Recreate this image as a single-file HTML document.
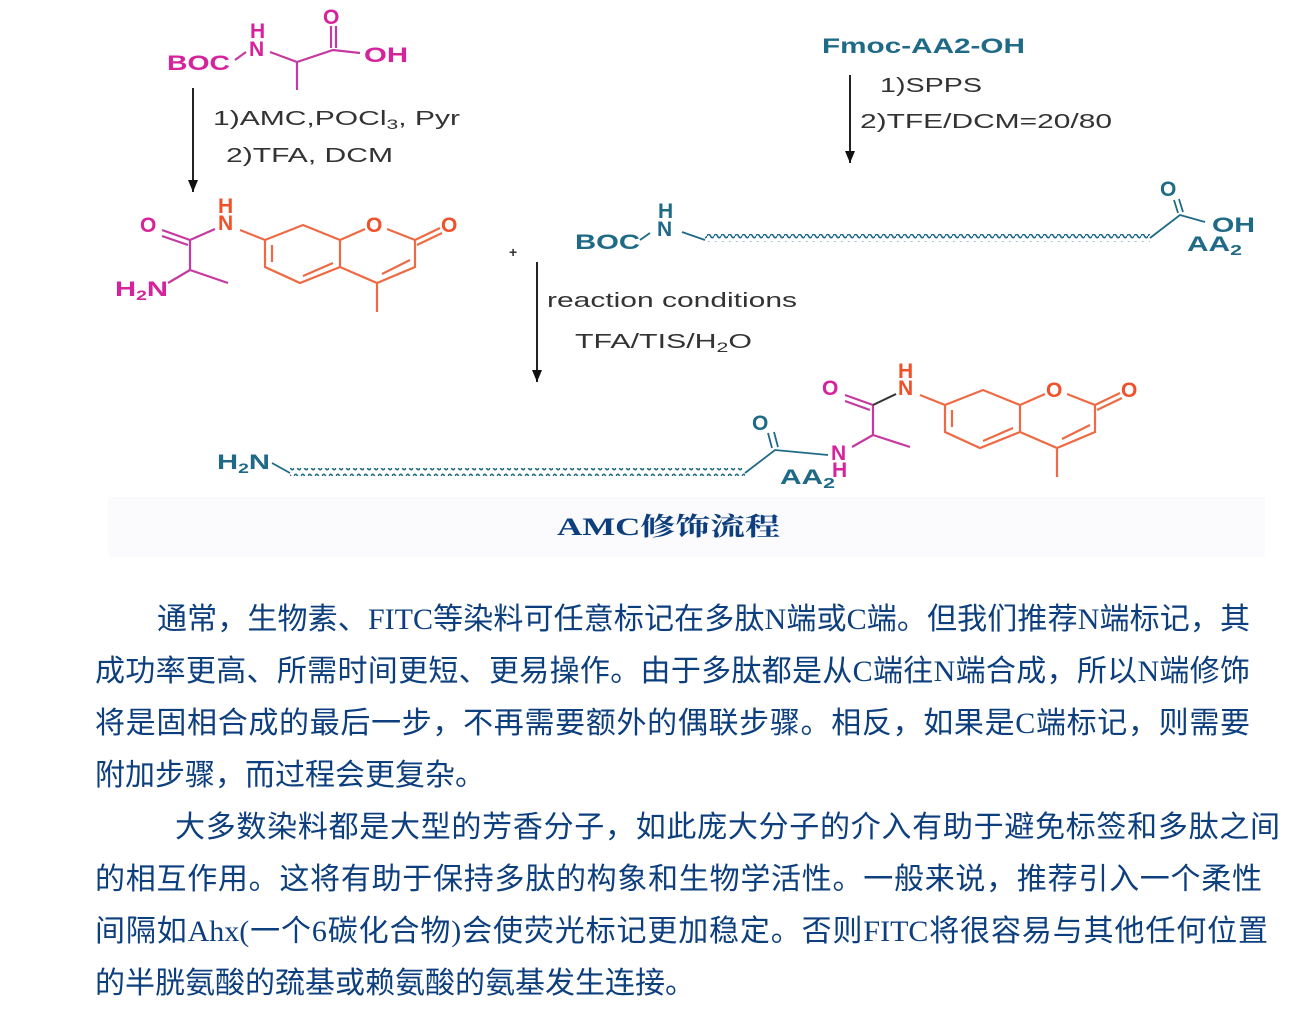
<!DOCTYPE html>
<html><head><meta charset="utf-8"><style>
html,body{margin:0;padding:0;background:#fff;}
body{width:1293px;height:1014px;position:relative;overflow:hidden;}
.l{position:absolute;height:52px;line-height:52px;font-size:30px;color:#0d3f7e;font-family:"Liberation Serif","Noto Sans CJK SC",sans-serif;white-space:nowrap;text-align:justify;text-align-last:justify;}
.l span{font-family:"Liberation Serif",serif;}
svg text{font-family:"Liberation Sans",sans-serif;font-weight:bold;}
svg text.r{font-weight:normal;}
</style></head><body>
<svg width="1293" height="580" style="position:absolute;left:0;top:0">
<defs>
<pattern id="wv" x="0" y="0" width="7" height="8" patternUnits="userSpaceOnUse">
<path d="M0,4 Q1.75,0.5 3.5,4 T7,4" fill="none" stroke="#1f6a86" stroke-width="1.6"/>
</pattern>
<marker id="ah" markerWidth="14" markerHeight="12" refX="12" refY="5" orient="auto" markerUnits="userSpaceOnUse">
<path d="M0,0 L12,5 L0,10 Z" fill="#111"/></marker>
<g id="ring" stroke="#ee6a45" stroke-width="2.2" fill="none">
<path d="M240,230 L265,240 L303,225 L340,240 L340,267 L300,283 L265,267 L265,240"/>
<path d="M272,245 L272,262 M303,276 L333,263"/>
<path d="M340,240 L365,229 M387,229 L415,240 L415,267 L377,283 L340,267 M377,283 L377,312 M410,260 L382,274"/>
<path d="M415,240 L440,228 M417,245 L442,233"/>
</g>
</defs>
<rect x="108" y="497" width="1157" height="60" fill="#fbfbfd"/>
<g fill="#d6239c" font-size="21">
<text x="167" y="70" textLength="63" lengthAdjust="spacingAndGlyphs">BOC</text><text x="250" y="38">H</text><text x="249" y="56">N</text>
<text x="323" y="24">O</text><text x="364" y="62" textLength="44" lengthAdjust="spacingAndGlyphs">OH</text>
</g>
<g stroke="#c43aa0" stroke-width="2.2" fill="none">
<path d="M235,60 L246,52 M270,52 L297,62 L333,50 L360,53 M297,62 L297,90 M331,48 L331,26 M336,48 L336,26"/>
</g>
<line x1="193" y1="88" x2="193" y2="192" stroke="#222" stroke-width="2" marker-end="url(#ah)"/>
<g font-size="20" fill="#333">
<text class="r" x="213" y="125" textLength="247" lengthAdjust="spacingAndGlyphs">1)AMC,POCl<tspan font-size="14" dy="4">3</tspan><tspan dy="-4">, Pyr</tspan></text>
<text class="r" x="226" y="162" textLength="167" lengthAdjust="spacingAndGlyphs">2)TFA, DCM</text>
</g>
<use href="#ring"/>
<g stroke="#c43aa0" stroke-width="2.2" fill="none">
<path d="M162,230 L190,240 M162,236 L188,245 M190,240 L215,229 M190,240 L190,270 L228,283 M190,270 L168,283"/>
</g>
<g font-size="21">
<text x="140" y="232" fill="#d6239c">O</text>
<text x="115" y="296" fill="#d6239c" textLength="53" lengthAdjust="spacingAndGlyphs">H<tspan font-size="14" dy="4">2</tspan><tspan dy="-4">N</tspan></text>
<text x="218" y="213" fill="#f0502a">H</text><text x="218" y="230" fill="#f0502a">N</text>
<text x="366" y="232" fill="#f0502a">O</text><text x="441" y="232" fill="#f0502a">O</text>
</g>
<text x="509" y="257" font-size="14" fill="#333">+</text>
<text x="822" y="53" font-size="21" fill="#1f6a86" textLength="203" lengthAdjust="spacingAndGlyphs">Fmoc-AA2-OH</text>
<line x1="850" y1="75" x2="850" y2="163" stroke="#222" stroke-width="2" marker-end="url(#ah)"/>
<text class="r" x="880" y="92" font-size="20" fill="#333" textLength="102" lengthAdjust="spacingAndGlyphs">1)SPPS</text>
<text class="r" x="860" y="128" font-size="20" fill="#333" textLength="252" lengthAdjust="spacingAndGlyphs">2)TFE/DCM=20/80</text>
<g font-size="21" fill="#1f6a86">
<text x="575" y="249" textLength="65" lengthAdjust="spacingAndGlyphs">BOC</text><text x="658" y="218">H</text><text x="657" y="236">N</text>
<text x="1160" y="196">O</text><text x="1212" y="232" textLength="43" lengthAdjust="spacingAndGlyphs">OH</text>
<text x="1187" y="251" textLength="55" lengthAdjust="spacingAndGlyphs">AA<tspan font-size="15" dy="4">2</tspan></text>
</g>
<g stroke="#1f6a86" stroke-width="1.8" fill="none">
<path d="M640,240 L650,233 M682,232 L705,240 M1150,238 L1180,215 L1205,222 M1178,213 L1174,200 M1183,212 L1179,199"/>
</g>
<rect x="705" y="234" width="445" height="8" fill="url(#wv)"/>
<line x1="537" y1="262" x2="537" y2="382" stroke="#222" stroke-width="2" marker-end="url(#ah)"/>
<text class="r" x="547" y="307" font-size="20" fill="#333" textLength="250" lengthAdjust="spacingAndGlyphs">reaction conditions</text>
<text class="r" x="575" y="348" font-size="20" fill="#333" textLength="177" lengthAdjust="spacingAndGlyphs">TFA/TIS/H<tspan font-size="14" dy="4">2</tspan><tspan dy="-4">O</tspan></text>
<use href="#ring" x="680" y="165"/>
<g font-size="21">
<text x="217" y="469" fill="#1f6a86" textLength="53" lengthAdjust="spacingAndGlyphs">H<tspan font-size="14" dy="4">2</tspan><tspan dy="-4">N</tspan></text>
<text x="752" y="430" fill="#1f6a86">O</text>
<text x="780" y="484" fill="#1f6a86" textLength="55" lengthAdjust="spacingAndGlyphs">AA<tspan font-size="15" dy="4">2</tspan></text>
<text x="831" y="460" fill="#d6239c">N</text><text x="832" y="477" fill="#d6239c">H</text>
<text x="822" y="395" fill="#d6239c">O</text>
<text x="898" y="378" fill="#f0502a">H</text><text x="898" y="395" fill="#f0502a">N</text>
<text x="1046" y="397" fill="#f0502a">O</text><text x="1121" y="397" fill="#f0502a">O</text>
</g>
<g stroke="#1f6a86" stroke-width="1.8" fill="none">
<path d="M272,463 L290,473 M745,473 L775,450 L828,455 M772,448 L768,433 M778,447 L774,432"/>
</g>
<rect x="290" y="468" width="455" height="8" fill="url(#wv)"/>
<g stroke="#c43aa0" stroke-width="2.2" fill="none">
<path d="M845,395 L873,405 M845,401 L870,410 M873,405 L873,435 L910,447 M873,435 L852,447"/>
</g>
<line x1="873" y1="405" x2="896" y2="394" stroke="#333" stroke-width="2"/>
<text x="557" y="535" font-size="25" fill="#0d3f7e" textLength="223" lengthAdjust="spacingAndGlyphs" style="font-family:'Liberation Serif','Noto Serif CJK SC',serif;font-weight:bold">AMC修饰流程</text>
</svg>
<div class="l" style="left:157px;top:594px;width:1093px">通常，生物素、<span>FITC</span>等染料可任意标记在多肽<span>N</span>端或<span>C</span>端。但我们推荐<span>N</span>端标记，其</div>
<div class="l" style="left:95px;top:646px;width:1155px">成功率更高、所需时间更短、更易操作。由于多肽都是从<span>C</span>端往<span>N</span>端合成，所以<span>N</span>端修饰</div>
<div class="l" style="left:95px;top:698px;width:1155px">将是固相合成的最后一步，不再需要额外的偶联步骤。相反，如果是<span>C</span>端标记，则需要</div>
<div class="l" style="left:95px;top:750px;text-align:left;text-align-last:left">附加步骤，而过程会更复杂。</div>
<div class="l" style="left:175px;top:802px;width:1105px">大多数染料都是大型的芳香分子，如此庞大分子的介入有助于避免标签和多肽之间</div>
<div class="l" style="left:95px;top:854px;width:1167px">的相互作用。这将有助于保持多肽的构象和生物学活性。一般来说，推荐引入一个柔性</div>
<div class="l" style="left:95px;top:906px;width:1173px">间隔如<span>Ahx</span>(一个<span>6</span>碳化合物)会使荧光标记更加稳定。否则<span>FITC</span>将很容易与其他任何位置</div>
<div class="l" style="left:95px;top:958px;text-align:left;text-align-last:left">的半胱氨酸的巯基或赖氨酸的氨基发生连接。</div>
</body></html>
